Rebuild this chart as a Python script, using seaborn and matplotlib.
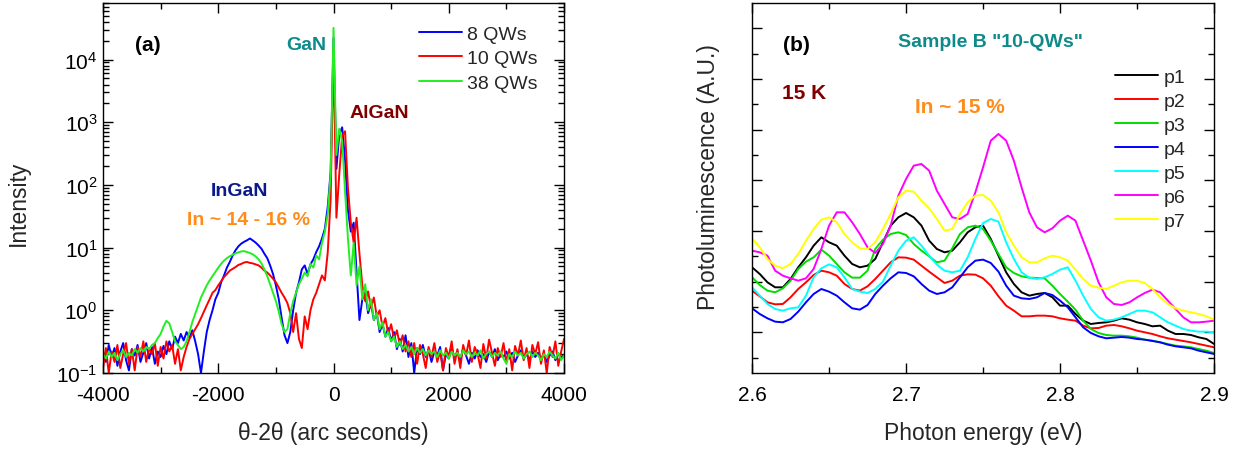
import numpy as np
import pandas as pd
import seaborn as sns
import matplotlib.pyplot as plt
from matplotlib.ticker import MultipleLocator, FixedLocator, FormatStrFormatter, LogLocator, NullFormatter

# ---- panel (a): XRD theta-2theta scans (arc seconds, counts) ----
angle = [-4000, -3950, -3900, -3850, -3800, -3750, -3700, -3650, -3600, -3550,
         -3500, -3450, -3400, -3350, -3300, -3250, -3200, -3150, -3100, -3050,
         -3000, -2950, -2900, -2850, -2800, -2750, -2700, -2650, -2600, -2550,
         -2500, -2450, -2400, -2350, -2300, -2250, -2200, -2150, -2100, -2050,
         -2000, -1950, -1900, -1850, -1800, -1750, -1700, -1650, -1600, -1550,
         -1500, -1450, -1400, -1350, -1300, -1250, -1200, -1150, -1100, -1050,
         -1000, -950, -900, -850, -800, -750, -700, -650, -600, -550,
         -500, -450, -400, -350, -300, -250, -200, -150, -100, -50,
         0, 50, 100, 150, 200, 250, 300, 350, 400, 450,
         500, 550, 600, 650, 700, 750, 800, 850, 900, 950,
         1000, 1050, 1100, 1150, 1200, 1250, 1300, 1350, 1400, 1450,
         1500, 1550, 1600, 1650, 1700, 1750, 1800, 1850, 1900, 1950,
         2000, 2050, 2100, 2150, 2200, 2250, 2300, 2350, 2400, 2450,
         2500, 2550, 2600, 2650, 2700, 2750, 2800, 2850, 2900, 2950,
         3000, 3050, 3100, 3150, 3200, 3250, 3300, 3350, 3400, 3450,
         3500, 3550, 3600, 3650, 3700, 3750, 3800, 3850, 3900, 3950,
         4000]

qw8 = [0.22, 0.15, 0.28, 0.18, 0.25, 0.13, 0.22, 0.30, 0.16, 0.11,
       0.24, 0.19, 0.28, 0.15, 0.21, 0.30, 0.17, 0.26, 0.14, 0.22,
       0.18, 0.27, 0.20, 0.32, 0.24, 0.38, 0.30, 0.42, 0.33, 0.45,
       0.36, 0.48, 0.32, 0.20, 0.10, 0.22, 0.45, 0.70, 1.0, 1.5,
       1.9, 2.8, 3.6, 4.8, 5.9, 7.5, 9.1, 10.5, 11.6, 12.4,
       13.1, 14.0, 13.0, 12.0, 10.8, 9.6, 8.0, 6.8, 5.2, 3.8,
       2.5, 1.5, 0.75, 0.40, 0.30, 0.45, 1.0, 1.9, 2.8, 4.5,
       5.2, 3.8, 5.4, 6.5, 8.5, 10.5, 14.0, 20.0, 45.0, 160.0,
       22000, 180, 650, 830, 250, 40, 18, 25, 4.0, 0.7,
       1.5, 1.9, 0.9, 1.3, 0.7, 0.9, 0.45, 0.6, 0.38, 0.52,
       0.32, 0.45, 0.24, 0.35, 0.22, 0.40, 0.18, 0.30, 0.10, 0.25,
       0.20, 0.28, 0.18, 0.24, 0.15, 0.22, 0.19, 0.26, 0.11, 0.20,
       0.17, 0.24, 0.18, 0.22, 0.16, 0.25, 0.19, 0.14, 0.21, 0.17,
       0.23, 0.18, 0.20, 0.15, 0.22, 0.18, 0.24, 0.16, 0.20, 0.18,
       0.22, 0.17, 0.21, 0.15, 0.19, 0.23, 0.17, 0.20, 0.16, 0.22,
       0.18, 0.21, 0.17, 0.20, 0.15, 0.19, 0.22, 0.16, 0.20, 0.18,
       0.19]

qw10 = [0.12, 0.25, 0.10, 0.22, 0.15, 0.28, 0.12, 0.20, 0.30, 0.14,
        0.24, 0.11, 0.26, 0.18, 0.32, 0.15, 0.25, 0.20, 0.30, 0.13,
        0.26, 0.17, 0.32, 0.22, 0.28, 0.14, 0.24, 0.11, 0.18, 0.26,
        0.35, 0.42, 0.50, 0.60, 0.75, 0.95, 1.2, 1.5, 1.9, 2.1,
        2.5, 2.9, 3.4, 3.8, 4.3, 4.6, 4.9, 5.3, 5.5, 5.8,
        5.9, 5.7, 5.6, 5.4, 5.2, 4.8, 4.3, 4.0, 3.6, 3.2,
        2.8, 2.3, 1.9, 1.6, 1.3, 0.9, 0.45, 0.9, 0.35, 0.25,
        0.8, 0.5, 1.0, 1.5, 1.9, 2.6, 3.6, 3.0, 8.5, 60,
        15000, 30, 150, 600, 720, 90, 25, 12, 30, 8,
        2.5, 1.4, 2.0, 1.1, 1.6, 0.8, 1.0, 0.55, 0.75, 0.42,
        0.60, 0.35, 0.48, 0.28, 0.40, 0.22, 0.32, 0.18, 0.30, 0.14,
        0.28, 0.20, 0.12, 0.26, 0.18, 0.30, 0.15, 0.22, 0.11, 0.25,
        0.18, 0.32, 0.14, 0.24, 0.12, 0.28, 0.19, 0.33, 0.15, 0.26,
        0.20, 0.12, 0.29, 0.17, 0.34, 0.21, 0.13, 0.25, 0.18, 0.30,
        0.15, 0.24, 0.11, 0.27, 0.19, 0.33, 0.16, 0.25, 0.12, 0.28,
        0.20, 0.31, 0.14, 0.23, 0.10, 0.26, 0.18, 0.32, 0.13, 0.22,
        0.35]

qw38 = [0.20, 0.17, 0.22, 0.18, 0.21, 0.16, 0.20, 0.23, 0.18, 0.21,
        0.19, 0.24, 0.21, 0.25, 0.22, 0.26, 0.24, 0.28, 0.30, 0.36,
        0.42, 0.55, 0.68, 0.62, 0.45, 0.32, 0.28, 0.24, 0.26, 0.32,
        0.45, 0.65, 0.88, 1.2, 1.6, 2.0, 2.5, 3.0, 3.5, 4.1,
        4.8, 5.5, 6.2, 6.8, 7.3, 7.7, 8.1, 8.4, 8.7, 8.8,
        8.5, 8.2, 7.8, 7.2, 6.5, 5.6, 4.5, 3.5, 2.6, 1.9,
        1.4, 0.95, 0.6, 0.45, 0.5, 0.9, 1.4, 1.9, 2.6, 3.2,
        4.0, 3.5, 5.5, 4.8, 7.5, 6.5, 12, 18, 35, 150,
        32000, 300, 790, 500, 80, 14, 3.6, 12, 2.5, 5.0,
        1.5, 2.6, 1.0, 1.5, 0.7, 0.9, 0.5, 0.65, 0.38, 0.45,
        0.32, 0.38, 0.26, 0.32, 0.24, 0.28, 0.22, 0.26, 0.20, 0.25,
        0.21, 0.24, 0.19, 0.23, 0.20, 0.22, 0.18, 0.23, 0.19, 0.21,
        0.17, 0.22, 0.19, 0.21, 0.18, 0.23, 0.20, 0.22, 0.18, 0.21,
        0.19, 0.23, 0.17, 0.20, 0.22, 0.18, 0.21, 0.19, 0.22, 0.17,
        0.14, 0.20, 0.18, 0.22, 0.19, 0.21, 0.17, 0.20, 0.22, 0.18,
        0.21, 0.19, 0.16, 0.20, 0.18, 0.22, 0.19, 0.17, 0.21, 0.16,
        0.19]

xrd_labels = ['8 QWs', '10 QWs', '38 QWs']
xrd_colors = ['#0000ff', '#ff0000', '#22ee22']

# ---- panel (b): PL spectra at 15 K (eV, arbitrary units) ----
energy = [2.600, 2.605, 2.610, 2.615, 2.620, 2.625, 2.630, 2.635, 2.640, 2.645, 2.650,
          2.655, 2.660, 2.665, 2.670, 2.675, 2.680, 2.685, 2.690, 2.695, 2.700,
          2.705, 2.710, 2.715, 2.720, 2.725, 2.730, 2.735, 2.740, 2.745, 2.750,
          2.755, 2.760, 2.765, 2.770, 2.775, 2.780, 2.785, 2.790, 2.795, 2.800,
          2.805, 2.810, 2.815, 2.820, 2.825, 2.830, 2.835, 2.840, 2.845, 2.850,
          2.855, 2.860, 2.865, 2.870, 2.875, 2.880, 2.885, 2.890, 2.895, 2.900]

p1 = [317, 297, 272, 257, 257, 282, 317, 347, 382, 407, 392,
      382, 352, 327, 317, 322, 342, 392, 442, 467, 480,
      467, 442, 397, 372, 362, 367, 392, 422, 437, 442,
      402, 352, 302, 267, 242, 232, 237, 240, 227, 202,
      202, 177, 157, 147, 150, 152, 157, 164, 160, 152,
      147, 140, 142, 127, 117, 117, 114, 107, 102, 87]
p2 = [247, 230, 212, 206, 207, 227, 252, 272, 294, 307, 302,
      292, 267, 252, 247, 260, 282, 307, 332, 347, 346,
      340, 322, 304, 287, 270, 277, 292, 296, 295, 284,
      262, 230, 202, 187, 170, 170, 172, 172, 170, 164,
      160, 157, 142, 134, 135, 142, 144, 140, 134, 127,
      122, 117, 110, 104, 100, 96, 92, 87, 82, 77]
p3 = [287, 264, 247, 242, 254, 277, 312, 334, 347, 370, 352,
      327, 302, 286, 286, 307, 372, 400, 417, 422, 414,
      387, 367, 350, 332, 337, 374, 417, 437, 442, 432,
      397, 357, 317, 300, 290, 286, 285, 284, 262, 237,
      214, 190, 157, 132, 120, 114, 112, 112, 110, 106,
      100, 97, 92, 87, 82, 80, 77, 72, 67, 60]
p4 = [194, 177, 164, 154, 152, 162, 184, 212, 237, 252, 244,
      232, 212, 194, 190, 204, 237, 262, 284, 302, 300,
      290, 267, 247, 237, 242, 257, 287, 317, 337, 340,
      330, 304, 262, 232, 224, 222, 227, 240, 234, 217,
      197, 167, 137, 120, 110, 104, 106, 108, 106, 102,
      100, 96, 92, 85, 80, 77, 74, 67, 62, 57]
p5 = [257, 232, 207, 192, 187, 194, 197, 232, 287, 314, 326,
      317, 287, 252, 244, 240, 252, 274, 322, 367, 397,
      407, 382, 352, 325, 307, 302, 307, 347, 402, 450,
      462, 454, 392, 342, 302, 286, 282, 287, 297, 310,
      317, 277, 232, 192, 167, 157, 160, 167, 177, 187,
      187, 182, 167, 152, 142, 132, 127, 124, 124, 122]
p6 = [367, 362, 352, 307, 292, 284, 277, 284, 312, 372, 442,
      482, 482, 452, 417, 377, 360, 387, 442, 532, 582,
      622, 627, 607, 547, 507, 467, 462, 477, 542, 617,
      697, 717, 697, 637, 557, 482, 437, 422, 434, 457,
      472, 457, 397, 337, 272, 227, 207, 204, 212, 227,
      240, 250, 242, 217, 192, 167, 152, 152, 154, 157]
p7 = [404, 377, 342, 322, 314, 327, 357, 397, 432, 460, 467,
      452, 417, 392, 374, 372, 392, 432, 477, 527, 547,
      544, 517, 494, 462, 427, 432, 477, 512, 532, 534,
      517, 482, 422, 382, 347, 332, 332, 344, 352, 347,
      337, 310, 282, 262, 256, 252, 262, 272, 277, 277,
      270, 252, 227, 207, 194, 187, 182, 177, 170, 160]

pl_labels = ['p1', 'p2', 'p3', 'p4', 'p5', 'p6', 'p7']
pl_colors = ['#000000', '#ff0000', '#00dd00', '#0000ff', '#00ffff', '#ff00ff', '#ffff00']

sns.set_theme(style='ticks')
plt.rcParams['font.family'] = ['Liberation Sans', 'DejaVu Sans']
plt.rcParams['mathtext.fontset'] = 'custom'
plt.rcParams['mathtext.rm'] = 'Liberation Sans'
plt.rcParams['axes.unicode_minus'] = False
plt.rcParams['axes.edgecolor'] = 'black'
plt.rcParams['xtick.color'] = 'black'
plt.rcParams['ytick.color'] = 'black'

xrd = pd.concat([pd.DataFrame({'angle': angle, 'intensity': v, 'sample': lab})
                 for v, lab in zip([qw8, qw10, qw38], xrd_labels)], ignore_index=True)
pl = pd.concat([pd.DataFrame({'energy': energy, 'pl': v, 'spot': lab})
                for v, lab in zip([p1, p2, p3, p4, p5, p6, p7], pl_labels)], ignore_index=True)

fig = plt.figure(figsize=(12.41, 4.52), dpi=100)
ax1 = fig.add_axes([0.083, 0.1726, 0.3715, 0.8186])
ax2 = fig.add_axes([0.606, 0.1726, 0.3723, 0.8186])

# (a) XRD
sns.lineplot(data=xrd, x='angle', y='intensity', hue='sample', hue_order=xrd_labels,
             palette=xrd_colors, estimator=None, sort=False, linewidth=1.4, ax=ax1)
ax1.set_yscale('log')
ax1.set_xlim(-4000, 4000)
ax1.set_ylim(0.1, 8e4)
ax1.xaxis.set_major_locator(MultipleLocator(2000))
ax1.xaxis.set_minor_locator(MultipleLocator(1000))
ax1.yaxis.set_major_locator(LogLocator(base=10, numticks=12))
ax1.yaxis.set_minor_locator(LogLocator(base=10, subs=np.arange(2, 10), numticks=12))
ax1.yaxis.set_minor_formatter(NullFormatter())
ax1.set_xlabel('θ-2θ (arc seconds)', fontsize=16.5)
ax1.set_ylabel('Intensity', fontsize=16.5)
ax1.xaxis.set_label_coords(0.5, -0.13)
ax1.yaxis.set_label_coords(-0.158, 0.46)

h, l = ax1.get_legend_handles_labels()
ax1.legend(h, l, loc='upper left', bbox_to_anchor=(0.685, 0.94), frameon=False,
           fontsize=14, handlelength=2.2, handletextpad=0.3, labelspacing=0.35,
           borderpad=0, borderaxespad=0)

ax1.text(0.098, 0.889, '(a)', transform=ax1.transAxes, ha='center', va='center',
         fontsize=15, fontweight='bold', color='black')
ax1.text(0.44, 0.889, 'GaN', transform=ax1.transAxes, ha='center', va='center',
         fontsize=14, fontweight='bold', color='#0f8a8a')
ax1.text(0.599, 0.705, 'AlGaN', transform=ax1.transAxes, ha='center', va='center',
         fontsize=14, fontweight='bold', color='#800000')
ax1.text(0.295, 0.492, 'InGaN', transform=ax1.transAxes, ha='center', va='center',
         fontsize=14, fontweight='bold', color='#0a1a8c')
ax1.text(0.315, 0.414, 'In ~ 14 - 16 %', transform=ax1.transAxes, ha='center', va='center',
         fontsize=14, fontweight='bold', color='#ff8c1a')

# (b) PL
sns.lineplot(data=pl, x='energy', y='pl', hue='spot', hue_order=pl_labels,
             palette=pl_colors, estimator=None, sort=False, linewidth=1.4, ax=ax2)
ax2.set_xlim(2.6, 2.9)
ax2.set_ylim(0, 1110)
ax2.xaxis.set_major_locator(MultipleLocator(0.1))
ax2.xaxis.set_minor_locator(MultipleLocator(0.05))
ax2.xaxis.set_major_formatter(FormatStrFormatter('%.1f'))
ax2.yaxis.set_major_locator(FixedLocator(np.arange(122, 1110, 152)))
ax2.yaxis.set_minor_locator(FixedLocator(np.arange(46, 1110, 152)))
ax2.set_xlabel('Photon energy (eV)', fontsize=16.5)
ax2.set_ylabel('Photoluminescence (A.U.)', fontsize=16.5)
ax2.xaxis.set_label_coords(0.5, -0.13)
ax2.yaxis.set_label_coords(-0.07, 0.532)

h, l = ax2.get_legend_handles_labels()
ax2.legend(h, l, loc='upper left', bbox_to_anchor=(0.786, 0.824), frameon=False,
           fontsize=14, handlelength=2.2, handletextpad=0.3, labelspacing=0.33,
           borderpad=0, borderaxespad=0)

ax2.text(0.097, 0.889, '(b)', transform=ax2.transAxes, ha='center', va='center',
         fontsize=15, fontweight='bold', color='black')
ax2.text(0.515, 0.895, 'Sample B "10-QWs"', transform=ax2.transAxes, ha='center', va='center',
         fontsize=14, fontweight='bold', color='#0f8a8a')
ax2.text(0.113, 0.757, '15 K', transform=ax2.transAxes, ha='center', va='center',
         fontsize=15, fontweight='bold', color='#800000')
ax2.text(0.45, 0.719, 'In ~ 15 %', transform=ax2.transAxes, ha='center', va='center',
         fontsize=15, fontweight='bold', color='#ff8c1a')

for ax in (ax1, ax2):
    ax.tick_params(which='both', direction='in', top=True, right=True, width=1.0, labelsize=15)
    ax.tick_params(which='major', length=7, pad=6)
    ax.tick_params(which='minor', length=4)
    ax.tick_params(axis='x', which='major', pad=9)
    for s in ax.spines.values():
        s.set_linewidth(1.0)
        s.set_color('black')
ax1.tick_params(axis='y', which='major', pad=4)
ax2.tick_params(axis='y', which='both', labelleft=False)

fig.savefig('out.png', dpi=100)
